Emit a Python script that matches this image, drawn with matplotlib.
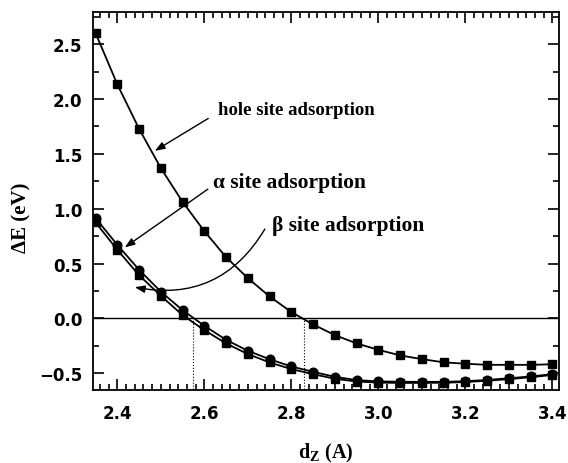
import numpy as np
import matplotlib
matplotlib.use('Agg')
import matplotlib.pyplot as plt
from matplotlib.ticker import MultipleLocator

plt.rcParams['mathtext.fontset'] = 'custom'
plt.rcParams['mathtext.rm'] = 'Liberation Serif'
plt.rcParams['mathtext.bf'] = 'Liberation Serif:bold'

# distance d_Z (A) and adsorption energies (eV)
d_z = [2.35, 2.40, 2.45, 2.50, 2.55, 2.60, 2.65, 2.70, 2.75, 2.80, 2.85,
       2.90, 2.95, 3.00, 3.05, 3.10, 3.15, 3.20, 3.25, 3.30, 3.35, 3.40]
e_hole = [2.600, 2.133, 1.728, 1.370, 1.062, 0.795, 0.558, 0.367, 0.200, 0.058, -0.055,
          -0.152, -0.228, -0.286, -0.337, -0.371, -0.400, -0.413, -0.423, -0.423, -0.423, -0.418]
e_alpha = [0.914, 0.670, 0.443, 0.244, 0.075, -0.067, -0.195, -0.295, -0.372, -0.438, -0.487,
           -0.532, -0.562, -0.574, -0.577, -0.578, -0.578, -0.572, -0.561, -0.545, -0.529, -0.508]
e_beta = [0.875, 0.625, 0.394, 0.206, 0.030, -0.107, -0.228, -0.325, -0.401, -0.462, -0.508,
          -0.550, -0.575, -0.585, -0.588, -0.588, -0.586, -0.580, -0.568, -0.553, -0.536, -0.515]
# equilibrium crossings (Delta E = 0)
d_cross = [2.575, 2.829]

fig = plt.figure(figsize=(5.68, 4.64), dpi=100)
ax = fig.add_axes([0.1637, 0.1567, 0.8203, 0.8146])

ax.plot(d_z, e_hole, color='black', lw=1.3, marker='s', ms=5.5)
ax.plot(d_z, e_beta, color='black', lw=1.3, marker='s', ms=5.5)
ax.plot(d_z, e_alpha, color='black', lw=1.3, marker='o', ms=6.2)

ax.axhline(0, color='black', lw=1.0)
for d in d_cross:
    ax.plot([d, d], [-0.7, 0], color='black', lw=0.8, ls=':')

ax.set_xlim(2.344, 3.415)
ax.set_ylim(-0.655, 2.79)

ax.xaxis.set_major_locator(MultipleLocator(0.2))
ax.xaxis.set_minor_locator(MultipleLocator(0.02))
ax.yaxis.set_major_locator(MultipleLocator(0.5))
ax.yaxis.set_minor_locator(MultipleLocator(0.25))
ax.tick_params(which='both', direction='in', top=True, right=True, width=1.2)
ax.tick_params(which='major', length=8)
ax.tick_params(which='minor', length=4)
for lab in ax.get_xticklabels() + ax.get_yticklabels():
    lab.set_fontfamily('DejaVu Sans')
    lab.set_fontweight('bold')
    lab.set_fontsize(12)
ax.tick_params(axis='x', pad=10)
ax.tick_params(axis='y', pad=7.5)
for sp in ax.spines.values():
    sp.set_linewidth(1.3)

ax.set_xlabel(r'$\mathbf{d}_\mathbf{Z}$ (A)', family='Liberation Serif',
              fontweight='bold', fontsize=14.5)
ax.xaxis.set_label_coords(0.5, -0.135)
ax.set_ylabel('\u0394E (eV)', family='Liberation Serif', fontweight='bold', fontsize=15)
ax.yaxis.set_label_coords(-0.131, 0.46)

arr = dict(arrowstyle='-|>,head_length=0.6,head_width=0.22', color='black', lw=1.0,
           shrinkA=0, shrinkB=0)
txt = dict(family='Liberation Serif', fontweight='bold', va='center', ha='left')

ax.text(2.631, 1.907, 'hole site adsorption', fontsize=13.5, **txt)
ax.annotate('', xy=(2.486, 1.527), xytext=(2.609, 1.823), arrowprops=arr)

ax.text(2.620, 1.242, '\u03b1 site adsorption', fontsize=15.5, **txt)
ax.annotate('', xy=(2.417, 0.647), xytext=(2.608, 1.178), arrowprops=arr)

ax.text(2.755, 0.850, '\u03b2 site adsorption', fontsize=15.5, **txt)
ax.annotate('', xy=(2.440, 0.285), xytext=(2.739, 0.814),
            arrowprops=dict(arr, connectionstyle='arc3,rad=-0.35'))

fig.savefig('out.png', dpi=100)
